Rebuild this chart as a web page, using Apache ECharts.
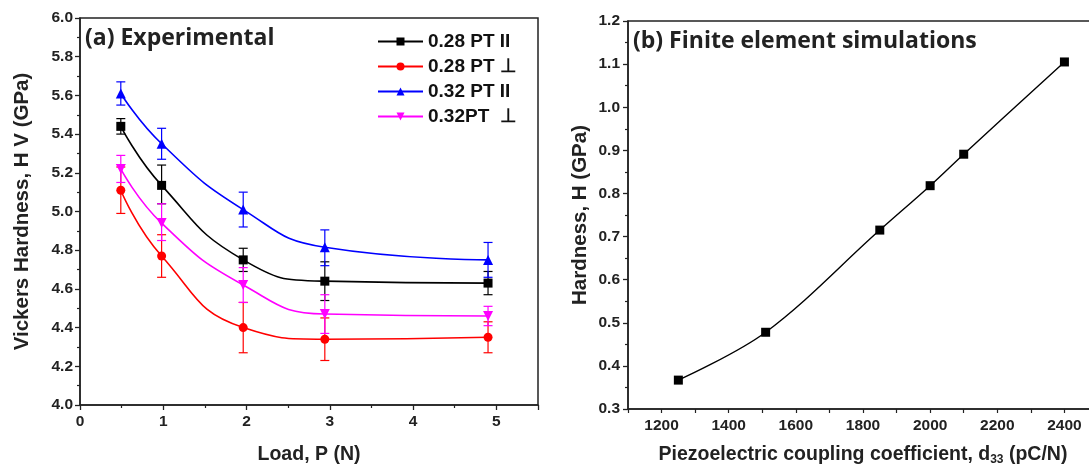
<!DOCTYPE html>
<html>
<head>
<meta charset="utf-8">
<script src="https://cdn.jsdelivr.net/npm/echarts@6/dist/echarts.min.js"></script>
<style>
html,body{margin:0;padding:0;background:#fff;}
#chart{width:1089px;height:470px;}
</style>
</head>
<body>
<div id="chart"></div>
<script>
// ---- Panel (a) data ----
const loads = [0.49, 0.98, 1.96, 2.94, 4.9];
const names = ['0.28 PT II', '0.28 PT \u22A5', '0.32 PT II', '0.32PT  \u22A5'];
const colors = ['#000000', '#ff0000', '#0000ff', '#ff00ff'];
const pt28Par  = [5.44, 5.135, 4.75, 4.64, 4.63];
const pt28Perp = [5.11, 4.77, 4.40, 4.34, 4.35];
const pt32Par  = [5.61, 5.35, 5.01, 4.815, 4.75];
const pt32Perp = [5.22, 4.94, 4.62, 4.47, 4.46];
const pt28ParHi  = [5.48, 5.24, 4.81, 4.74, 4.69];
const pt28ParLo  = [5.40, 5.04, 4.69, 4.54, 4.57];
const pt28PerpHi = [5.23, 4.88, 4.53, 4.45, 4.43];
const pt28PerpLo = [4.99, 4.66, 4.27, 4.23, 4.27];
const pt32ParHi  = [5.67, 5.43, 5.10, 4.905, 4.84];
const pt32ParLo  = [5.55, 5.27, 4.92, 4.72, 4.66];
const pt32PerpHi = [5.29, 5.04, 4.71, 4.57, 4.51];
const pt32PerpLo = [5.15, 4.85, 4.53, 4.37, 4.41];

// ---- Panel (b) data ----
const d33 = [1250, 1510, 1850, 2000, 2100, 2400];
const hardness = [0.367, 0.478, 0.715, 0.818, 0.891, 1.105];

const values = [pt28Par, pt28Perp, pt32Par, pt32Perp];
const his = [pt28ParHi, pt28PerpHi, pt32ParHi, pt32PerpHi];
const los = [pt28ParLo, pt28PerpLo, pt32ParLo, pt32PerpLo];
const symbols = ['rect', 'circle', 'triangle', 'path://M0,0 L10,0 L5,9 Z'];
const symbolSizes = [9, 9, 10, 10];

const FONT = '"Liberation Sans", Arial, sans-serif';
const chart = echarts.init(document.getElementById('chart'), null, {renderer: 'canvas'});

function errRender(color) {
  return function (params, api) {
    const x = api.value(0), lo = api.value(1), hi = api.value(2);
    const p1 = api.coord([x, lo]);
    const p2 = api.coord([x, hi]);
    const hw = 4.5;
    const st = {stroke: color, lineWidth: 1.2};
    return {
      type: 'group',
      children: [
        {type: 'line', shape: {x1: p1[0], y1: p1[1], x2: p2[0], y2: p2[1]}, style: st},
        {type: 'line', shape: {x1: p1[0] - hw, y1: p1[1], x2: p1[0] + hw, y2: p1[1]}, style: st},
        {type: 'line', shape: {x1: p2[0] - hw, y1: p2[1], x2: p2[0] + hw, y2: p2[1]}, style: st}
      ]
    };
  };
}

const series = [];
values.forEach((vals, i) => {
  series.push({
    type: 'custom',
    name: 'err' + i,
    xAxisIndex: 0, yAxisIndex: 0,
    renderItem: errRender(colors[i]),
    encode: {x: 0, y: [1, 2]},
    data: loads.map((x, k) => [x, los[i][k], his[i][k]]),
    z: 2,
    silent: true
  });
});
values.forEach((vals, i) => {
  series.push({
    type: 'line',
    name: names[i],
    xAxisIndex: 0, yAxisIndex: 0,
    data: loads.map((x, k) => [x, vals[k]]),
    smooth: 0.5,
    symbol: symbols[i],
    symbolSize: symbolSizes[i],
    showAllSymbol: true,
    itemStyle: {color: colors[i]},
    lineStyle: {color: colors[i], width: 1.6},
    z: 3
  });
});
series.push({
  type: 'line',
  name: 'sim',
  xAxisIndex: 1, yAxisIndex: 1,
  data: d33.map((x, k) => [x, hardness[k]]),
  smooth: 0.35,
  symbol: 'rect',
  symbolSize: 9,
  itemStyle: {color: '#000'},
  lineStyle: {color: '#000', width: 1.4},
  z: 3
});

const tickLabel = {color: '#222', fontFamily: FONT, fontWeight: 'bold', fontSize: 15.5};
const xNameStyle = {color: '#222', fontFamily: FONT, fontWeight: 'bold', fontSize: 19.5};
const yNameStyle = {color: '#222', fontFamily: FONT, fontWeight: 'bold', fontSize: 20.5};

const option = {
  animation: false,
  backgroundColor: '#ffffff',
  grid: [
    {left: 80, top: 18, width: 458, height: 387, show: true, borderColor: '#222', borderWidth: 1.5, backgroundColor: 'transparent', containLabel: false, outerBoundsMode: 'none'},
    {left: 628, top: 21, width: 470, height: 388, show: true, borderColor: '#222', borderWidth: 1.5, backgroundColor: 'transparent', containLabel: false, outerBoundsMode: 'none'}
  ],
  legend: {
    data: names,
    orient: 'vertical',
    left: 372, top: 27,
    itemWidth: 45, itemHeight: 10,
    itemGap: 6,
    textStyle: {fontFamily: FONT, fontWeight: 'bold', fontSize: 19, color: '#111'}
  },
  xAxis: [
    {
      type: 'value', gridIndex: 0, min: 0, max: 5.5, interval: 1,
      name: 'Load, P (N)', nameLocation: 'middle', nameGap: 40, nameTextStyle: xNameStyle,
      axisLine: {show: true, onZero: false, lineStyle: {color: '#222', width: 1.5}},
      axisTick: {show: true, inside: false, length: 5, lineStyle: {color: '#222', width: 1.3}},
      minorTick: {show: true, splitNumber: 2, length: 3, lineStyle: {color: '#222', width: 1.2}},
      axisLabel: Object.assign({margin: 9, formatter: v => (Math.abs(v - Math.round(v)) < 1e-9 ? String(Math.round(v)) : '')}, tickLabel),
      splitLine: {show: false}
    },
    {
      type: 'value', gridIndex: 1, min: 1100, max: 2500, interval: 100,
      name: '{n|Piezoelectric coupling coefficient, d}{s|33}{n| (pC/N)}', nameLocation: 'middle', nameGap: 34,
      nameTextStyle: {padding: [0, 0, 0, 0], rich: {n: xNameStyle, s: {color: '#222', fontFamily: FONT, fontWeight: 'bold', fontSize: 12, padding: [11, 0, 0, 0]}}},
      axisLine: {show: true, onZero: false, lineStyle: {color: '#222', width: 1.5}},
      axisTick: {show: true, inside: false, length: 4, lineStyle: {color: '#222', width: 1.2}},
      axisLabel: Object.assign({margin: 9, formatter: v => (v % 200 === 0 ? String(v) : '')}, tickLabel),
      splitLine: {show: false}
    }
  ],
  yAxis: [
    {
      type: 'value', gridIndex: 0, min: 4.0, max: 6.0, interval: 0.2,
      name: 'Vickers Hardness, H V (GPa)', nameLocation: 'middle', nameGap: 47, nameTextStyle: yNameStyle,
      axisLine: {show: true, onZero: false, lineStyle: {color: '#222', width: 1.5}},
      axisTick: {show: true, inside: false, length: 5, lineStyle: {color: '#222', width: 1.3}},
      minorTick: {show: true, splitNumber: 2, length: 3, lineStyle: {color: '#222', width: 1.2}},
      axisLabel: Object.assign({margin: 7, formatter: v => v.toFixed(1)}, tickLabel),
      splitLine: {show: false}
    },
    {
      type: 'value', gridIndex: 1, min: 0.3, max: 1.2, interval: 0.1,
      name: 'Hardness, H (GPa)', nameLocation: 'middle', nameGap: 37, nameTextStyle: yNameStyle,
      axisLine: {show: true, onZero: false, lineStyle: {color: '#222', width: 1.5}},
      axisTick: {show: true, inside: false, length: 5, lineStyle: {color: '#222', width: 1.3}},
      minorTick: {show: true, splitNumber: 2, length: 3, lineStyle: {color: '#222', width: 1.2}},
      axisLabel: Object.assign({margin: 8, formatter: v => v.toFixed(1)}, tickLabel),
      splitLine: {show: false}
    }
  ],
  graphic: [
    {type: 'text', left: 85, top: 27, z: 10, style: {text: '(a) Experimental', font: 'bold 23px "Open Sans", Lato, sans-serif', fill: '#222'}},
    {type: 'text', left: 633, top: 30, z: 10, style: {text: '(b) Finite element simulations', font: 'bold 23px "Open Sans", Lato, sans-serif', fill: '#222'}}
  ],
  series: series
};
chart.setOption(option);
</script>
</body>
</html>
